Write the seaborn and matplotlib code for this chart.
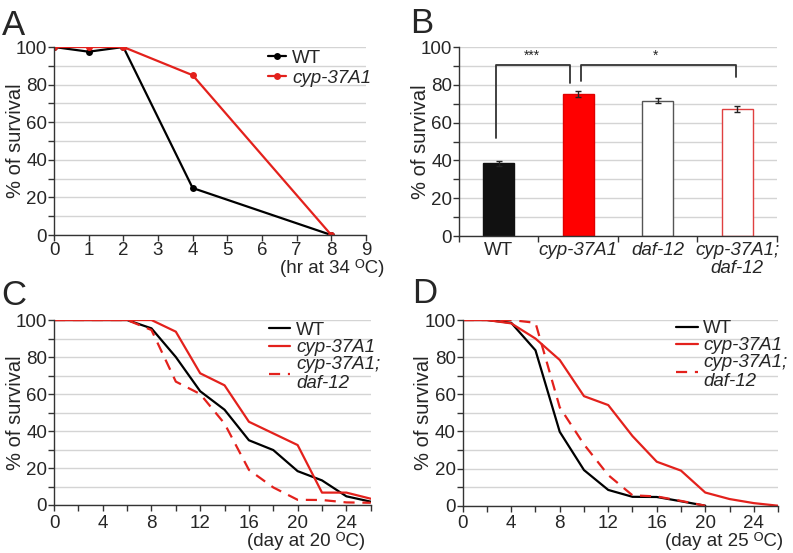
import seaborn as sns
import matplotlib.pyplot as plt

sns.set_theme(style="white")
plt.rcParams['font.family'] = ['Liberation Sans', 'DejaVu Sans']

RED = '#e3211c'
FS = 13.5

# A: survival under heat shock (34 C)
hours = [0, 1, 2, 4, 8]
wt_heat = [100, 97.5, 100, 25, 0]
cyp_heat = [100, 100, 100, 85, 0]

# B: survival per strain
strains = ['WT', 'cyp-37A1', 'daf-12', 'cyp-37A1;\ndaf-12']
surv_b = [38.5, 75, 71.5, 67]
err_b = [1.2, 1.6, 1.3, 1.6]

# C: lifespan at 20 C
days_c = [0, 2, 4, 6, 8, 10, 12, 14, 16, 18, 20, 22, 24, 26]
wt_c = [100, 100, 100, 100, 95.5, 80, 61.5, 51.5, 35, 29.7, 18.3, 13.3, 4.7, 1.8]
cyp_c = [100, 100, 100, 100, 100, 93.7, 71.2, 64.7, 45, 38.7, 32.4, 6.7, 6.7, 3.4]
dbl_c = [100, 100, 100, 100, 94.6, 66.7, 60, 44, 19, 9.5, 2.8, 2.7, 1.4, 1.2]

# D: lifespan at 25 C
days_d = [0, 2, 4, 6, 8, 10, 12, 14, 16, 18, 20, 22, 24, 26]
wt_d = [100, 100, 98.5, 83.7, 39.8, 19.2, 8.5, 4.8, 4.7, 2.4, 0]
cyp_d = [100, 100, 98.2, 90, 78.5, 59, 54.2, 37.5, 23.7, 18.9, 7.1, 3.6, 1.4, 0]
dbl_d = [100, 100, 100, 98.5, 53, 33, 16.5, 5.6, 5, 2.6, 0]


def style_axis(ax, ylab_x):
    for s in ['top', 'right']:
        ax.spines[s].set_visible(False)
    for s in ['left', 'bottom']:
        ax.spines[s].set_color('#333333')
        ax.spines[s].set_linewidth(1)
    ax.set_ylim(0, 100)
    ax.set_yticks(range(0, 101, 20))
    ax.set_yticks(range(0, 101, 10), minor=True)
    ax.yaxis.grid(True, which='both', color='#d4d4d4', lw=1)
    ax.set_axisbelow(True)
    ax.tick_params(which='both', direction='out', length=4, width=1, color='#333333',
                   labelsize=FS, pad=1, left=True, bottom=True)
    ax.set_ylabel('% of survival', fontsize=14.5)
    ax.yaxis.set_label_coords(ylab_x, 0.5)
    ax.set_xlabel('')


def italic_legend(ax, anchor, hl, spacing):
    leg = ax.legend(loc='upper right', bbox_to_anchor=anchor, frameon=False, fontsize=FS,
                    handlelength=hl, handletextpad=0.3, labelspacing=spacing, borderpad=0,
                    borderaxespad=0)
    for t in leg.get_texts()[1:]:
        t.set_style('italic')
        t.set_linespacing(1.15)
    return leg


fig = plt.figure(figsize=(7.93, 5.53), dpi=100)
axA = fig.add_axes([0.0681, 0.575, 0.3934, 0.340])
axB = fig.add_axes([0.5788, 0.5732, 0.401, 0.3418])
axC = fig.add_axes([0.0681, 0.0868, 0.3994, 0.3345])
axD = fig.add_axes([0.5835, 0.0855, 0.3976, 0.3358])

# ---- A ----
sns.lineplot(x=hours, y=wt_heat, color='black', marker='o', markersize=5, markeredgewidth=0,
             lw=1.6, label='WT', ax=axA)
sns.lineplot(x=hours, y=cyp_heat, color=RED, marker='o', markersize=5, markeredgewidth=0,
             lw=1.6, label='cyp-37A1', ax=axA)
axA.set_xlim(0, 9)
axA.set_xticks(range(0, 10))
style_axis(axA, -0.093)
italic_legend(axA, (1.016, 0.985), 1.0, 0.15)
axA.text(1.06, -0.202, '(hr at 34 \u1D3CC)', transform=axA.transAxes, ha='right',
         va='baseline', fontsize=FS)

# ---- B ----
face = ['#111111', '#ff0000', 'white', 'white']
edge = ['#111111', '#e00000', '#555555', '#e04040']
sns.barplot(x=strains, y=surv_b, hue=strains, palette=face, saturation=1, legend=False,
            width=0.39, ax=axB)
for p, ec in zip(axB.patches, edge):
    p.set_edgecolor(ec)
    p.set_linewidth(1)
axB.errorbar(range(len(strains)), surv_b, yerr=err_b, fmt='none', ecolor='#222222',
             elinewidth=1, capsize=2.5, capthick=1)
axB.set_xlim(-0.5, 3.5)
style_axis(axB, -0.091)
axB.set_xticks([-0.5, 0.5, 1.5, 2.5, 3.5], minor=True)
axB.tick_params(axis='x', which='major', length=0, pad=4)
for i, t in enumerate(axB.get_xticklabels()):
    if i > 0:
        t.set_style('italic')
    t.set_linespacing(1.1)
# significance brackets
bk = dict(color='#333333', lw=1.3, clip_on=False)
axB.plot([-0.03, -0.03, 0.9, 0.9], [52, 90.3, 90.3, 81], **bk)
axB.plot([1.03, 1.03, 2.98, 2.98], [82, 90.3, 90.3, 84], **bk)
axB.text(0.42, 95.5, '***', ha='center', va='center', fontsize=10)
axB.text(1.97, 95.5, '*', ha='center', va='center', fontsize=10)

# ---- C ----
sns.lineplot(x=days_c, y=wt_c, color='black', lw=1.6, label='WT', ax=axC)
sns.lineplot(x=days_c, y=cyp_c, color=RED, lw=1.6, label='cyp-37A1', ax=axC)
sns.lineplot(x=days_c, y=dbl_c, color=RED, lw=1.6, ls=(0, (5, 3.5)),
             label='cyp-37A1;\ndaf-12', ax=axC)
axC.set_xlim(0, 26)
axC.set_xticks(range(0, 25, 4))
axC.set_xticks(range(0, 27, 2), minor=True)
style_axis(axC, -0.092)
axC.tick_params(axis='x', pad=3)
italic_legend(axC, (1.03, 0.99), 1.15, 0.0)
axC.text(0.982, -0.22, '(day at 20 \u1D3CC)', transform=axC.transAxes, ha='right',
         va='baseline', fontsize=FS)

# ---- D ----
sns.lineplot(x=days_d[:len(wt_d)], y=wt_d, color='black', lw=1.6, label='WT', ax=axD)
sns.lineplot(x=days_d, y=cyp_d, color=RED, lw=1.6, label='cyp-37A1', ax=axD)
sns.lineplot(x=days_d[:len(dbl_d)], y=dbl_d, color=RED, lw=1.6, ls=(0, (5, 3.5)),
             label='cyp-37A1;\ndaf-12', ax=axD)
axD.set_xlim(0, 26)
axD.set_xticks(range(0, 25, 4))
axD.set_xticks(range(0, 27, 2), minor=True)
style_axis(axD, -0.094)
axD.tick_params(axis='x', pad=3)
italic_legend(axD, (1.03, 1.0), 1.15, 0.0)
axD.text(1.016, -0.216, '(day at 25 \u1D3CC)', transform=axD.transAxes, ha='right',
         va='baseline', fontsize=FS)

# panel letters
for lab, x, y in [('A', 0.002, 0.937), ('B', 0.517, 0.940), ('C', 0.002, 0.4485),
                  ('D', 0.5195, 0.452)]:
    fig.text(x, y, lab, fontsize=25, va='baseline', ha='left')

fig.savefig('out.png', dpi=100)
